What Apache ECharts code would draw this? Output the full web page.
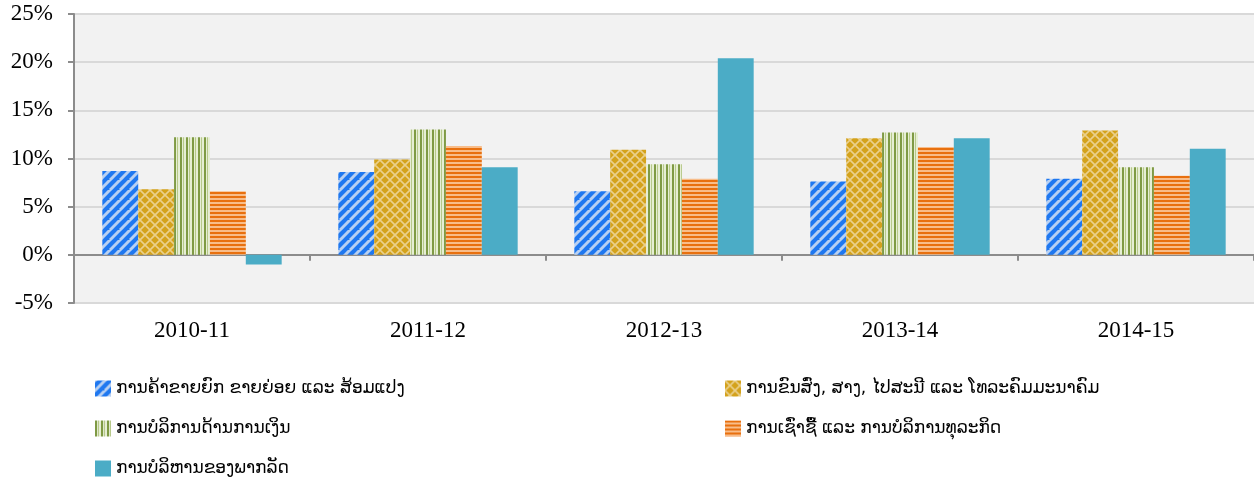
<!DOCTYPE html>
<html>
<head>
<meta charset="utf-8">
<script src="https://cdn.jsdelivr.net/npm/echarts@6/dist/echarts.min.js"></script>
<style>
  html, body { margin: 0; padding: 0; background: #fff; }
  #chart { width: 1254px; height: 480px; }
</style>
</head>
<body>
<div id="chart"></div>
<script>
const categories = ['2010-11', '2011-12', '2012-13', '2013-14', '2014-15'];
const seriesNames = [
    'ການຄ້າຂາຍຍົກ ຂາຍຍ່ອຍ ແລະ ສ້ອມແປງ',
    'ການຂົນສົ່ງ, ສາງ, ໄປສະນີ ແລະ ໂທລະຄົມມະນາຄົມ',
    'ການບໍລິການດ້ານການເງິນ',
    'ການເຊົ່າຊື້ ແລະ ການບໍລິການທຸລະກິດ',
    'ການບໍລິຫານຂອງພາກລັດ',
];
const tradeValues = [8.7, 8.6, 6.6, 7.6, 7.9];
const transportValues = [6.8, 9.9, 10.9, 12.1, 12.9];
const financeValues = [12.2, 13.0, 9.4, 12.7, 9.1];
const rentalValues = [6.6, 11.3, 7.9, 11.2, 8.2];
const publicValues = [-1.0, 9.1, 20.4, 12.1, 11.0];
const yTicks = { min: -5, max: 25, interval: 5 };

const makeTile = (size, draw) => {
    const c = document.createElement('canvas');
    c.width = size; c.height = size;
    draw(c.getContext('2d'), size);
    return { image: c, repeat: 'repeat' };
};

// diagonal blue stripes
const bluePattern = makeTile(10, (ctx, s) => {
    ctx.fillStyle = '#1f78f0';
    ctx.fillRect(0, 0, s, s);
    ctx.strokeStyle = '#b8d0f2';
    ctx.lineWidth = 3;
    for (let k = -s; k <= 2 * s; k += s) {
        ctx.beginPath();
        ctx.moveTo(k - s, s);
        ctx.lineTo(k + s, -s);
        ctx.stroke();
    }
});

// gold lattice
const goldPattern = makeTile(10, (ctx, s) => {
    ctx.fillStyle = '#d4a21c';
    ctx.fillRect(0, 0, s, s);
    ctx.strokeStyle = '#ead08c';
    ctx.lineWidth = 1.6;
    ctx.beginPath();
    ctx.moveTo(0, 0); ctx.lineTo(s, s);
    ctx.moveTo(s, 0); ctx.lineTo(0, s);
    ctx.stroke();
});

// green vertical stripes
const greenPattern = makeTile(6, (ctx, s) => {
    ctx.fillStyle = '#e6eed4';
    ctx.fillRect(0, 0, s, s);
    ctx.fillStyle = '#7f9a44';
    ctx.fillRect(0, 0, 2, s);
    ctx.fillStyle = '#b7c98a';
    ctx.fillRect(3, 0, 1, s);
});

// orange horizontal stripes
const orangePattern = makeTile(4, (ctx, s) => {
    ctx.fillStyle = '#f8bd8a';
    ctx.fillRect(0, 0, s, s);
    ctx.fillStyle = '#e8700f';
    ctx.fillRect(0, 0, s, 2);
});

const chart = echarts.init(document.getElementById('chart'));
const allValues = [tradeValues, transportValues, financeValues, rentalValues, publicValues];
const fills = [bluePattern, goldPattern, greenPattern, orangePattern, '#4bacc6'];

const labelFont = { fontFamily: 'Liberation Serif', fontSize: 23, color: '#000' };
const legendText = { fontFamily: 'DejaVu Sans', fontSize: 17, color: '#000' };

// one legend per entry so the two columns line up like the original
const legendSpots = [[90, 375], [720, 375], [90, 415], [720, 415], [90, 455]];
const legends = seriesNames.map((name, i) => ({
    data: [name], left: legendSpots[i][0], top: legendSpots[i][1],
    icon: 'rect', itemWidth: 16, itemHeight: 16, itemGap: 6,
    textStyle: legendText,
}));

chart.setOption({
    animation: false,
    grid: {
        left: 74, right: 0, top: 14, bottom: 177,
        show: true, backgroundColor: '#f2f2f2', borderWidth: 0,
    },
    legend: legends,
    xAxis: [
        {
            type: 'category', data: categories,
            axisLine: { onZero: true, lineStyle: { color: '#8c8c8c', width: 2 } },
            axisTick: { show: true, length: 6, lineStyle: { color: '#8c8c8c', width: 2 } },
            axisLabel: { show: false },
        },
        {
            type: 'category', data: categories, position: 'bottom',
            axisLine: { show: false }, axisTick: { show: false },
            axisLabel: Object.assign({ margin: 16 }, labelFont),
        },
    ],
    yAxis: {
        type: 'value', min: yTicks.min, max: yTicks.max, interval: yTicks.interval,
        axisLine: { show: true, lineStyle: { color: '#8c8c8c', width: 2 } },
        axisTick: { show: true, length: 6, lineStyle: { color: '#8c8c8c', width: 2 } },
        splitLine: { lineStyle: { color: '#d9d9d9', width: 2 } },
        axisLabel: Object.assign({ formatter: '{value}%', margin: 21 }, labelFont),
    },
    series: allValues.map((vals, i) => ({
        name: seriesNames[i], type: 'bar', xAxisIndex: 0,
        data: vals, barGap: '0%', barCategoryGap: '24%',
        itemStyle: { color: fills[i] },
    })),
});
</script>
</body>
</html>
